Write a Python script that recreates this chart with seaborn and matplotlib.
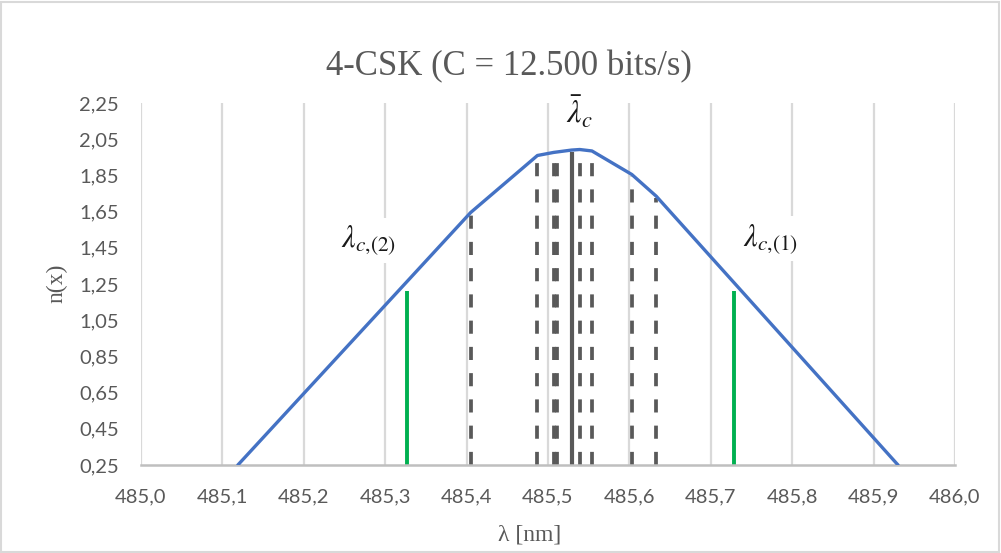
import numpy as np
import pandas as pd
import matplotlib
matplotlib.use("Agg")
import matplotlib.pyplot as plt
import seaborn as sns

# Refractive-index profile n(x) versus wavelength
wavelength_nm = [485.119, 485.405, 485.487, 485.507, 485.529, 485.539, 485.554, 485.603, 485.633, 485.930]
index_n = [0.25, 1.645, 1.960, 1.977, 1.990, 1.993, 1.985, 1.855, 1.735, 0.25]

# Symbol wavelengths (dashed) and their heights
symbol_lambda = [485.405, 485.487, 485.507, 485.5115, 485.539, 485.554, 485.603, 485.633]
symbol_top = [1.630, 1.935, 1.960, 1.965, 1.980, 1.965, 1.845, 1.725]

# Mean wavelength (solid)
mean_lambda = [485.529]
mean_top = [1.980]

# Channel limits (green)
limit_lambda = [485.327, 485.729]
limit_top = [1.21, 1.21]

x_ticks = [485.0, 485.1, 485.2, 485.3, 485.4, 485.5, 485.6, 485.7, 485.8, 485.9, 486.0]
y_ticks = [0.25, 0.45, 0.65, 0.85, 1.05, 1.25, 1.45, 1.65, 1.85, 2.05, 2.25]

TEXT = "#595959"
GRID = "#D9D9D9"

sns.set_theme(style="white")
plt.rcParams["font.family"] = ["Lato", "DejaVu Sans"]
plt.rcParams["mathtext.fontset"] = "stix"

fig = plt.figure(figsize=(10.01, 5.53), dpi=100)
ax = fig.add_axes([141 / 1001, 1 - 465 / 553, 814 / 1001, 362 / 553])

# vertical gridlines only
ax.set_xlim(485.0, 486.0)
ax.set_ylim(0.25, 2.25)
ax.set_xticks(x_ticks)
ax.set_yticks(y_ticks)
ax.grid(axis="x", color=GRID, linewidth=1.6)
ax.grid(axis="y", visible=False)
ax.set_axisbelow(True)

df = pd.DataFrame({"lambda": wavelength_nm, "n": index_n})
sns.lineplot(data=df, x="lambda", y="n", sort=False, estimator=None,
             color="#4472C4", linewidth=2.4, ax=ax, zorder=3)

base = y_ticks[0]
ax.vlines(symbol_lambda, base, symbol_top, colors="#595959", linewidth=2.7,
          linestyles=(0, (3.5, 3.5)), zorder=2)
ax.vlines(mean_lambda, base, mean_top, colors="#595959", linewidth=3.0, zorder=2)
ax.vlines(limit_lambda, base, limit_top, colors="#00B050", linewidth=2.8, zorder=2)

# annotations
box = dict(facecolor="white", edgecolor="none", pad=4)
ax.text(485.279, 1.49, r"$\lambda_{c{,}(2)}$", fontsize=22, color="#1a1a1a",
        ha="center", va="center", bbox=box, zorder=4)
ax.text(485.773, 1.50, r"$\lambda_{c{,}(1)}$", fontsize=22, color="#1a1a1a",
        ha="center", va="center", bbox=box, zorder=4)
ax.text(485.539, 2.20, r"$\bar{\lambda}_c$", fontsize=23, color="#1a1a1a",
        ha="center", va="center", bbox=dict(facecolor="white", edgecolor="none", pad=2),
        zorder=4)

# axes styling
for side in ("left", "right", "top"):
    ax.spines[side].set_visible(False)
ax.spines["bottom"].set_color("#BFBFBF")
ax.spines["bottom"].set_linewidth(1.8)
ax.tick_params(axis="both", length=0, labelsize=14.5, labelcolor=TEXT)
ax.tick_params(axis="x", pad=17)
ax.tick_params(axis="y", pad=16)
ax.set_xticklabels([f"{v:.1f}".replace(".", ",") for v in x_ticks])
ax.set_yticklabels([f"{v:.2f}".replace(".", ",") for v in y_ticks])

serif = ["Liberation Serif", "DejaVu Serif"]
ax.set_xlabel("λ [nm]", fontsize=17, color=TEXT, family=serif)
ax.xaxis.set_label_coords(0.478, -0.193)
ax.xaxis.label.set_va("center")
ax.set_ylabel("n(x)", fontsize=17, color=TEXT, family=serif)
ax.yaxis.set_label_coords(-0.103, 0.503)
ax.yaxis.label.set_va("center")

fig.text(509 / 1001, 1 - 67 / 553, "4-CSK (C = 12.500 bits/s)", fontsize=25,
         color=TEXT, family=serif, ha="center", va="center")

# chart border
fig.patches.append(plt.Rectangle((0.001, 0.002), 0.997, 0.994, transform=fig.transFigure,
                                 fill=False, edgecolor=GRID, linewidth=1.5))

fig.savefig("out.png", dpi=100, facecolor="white")
